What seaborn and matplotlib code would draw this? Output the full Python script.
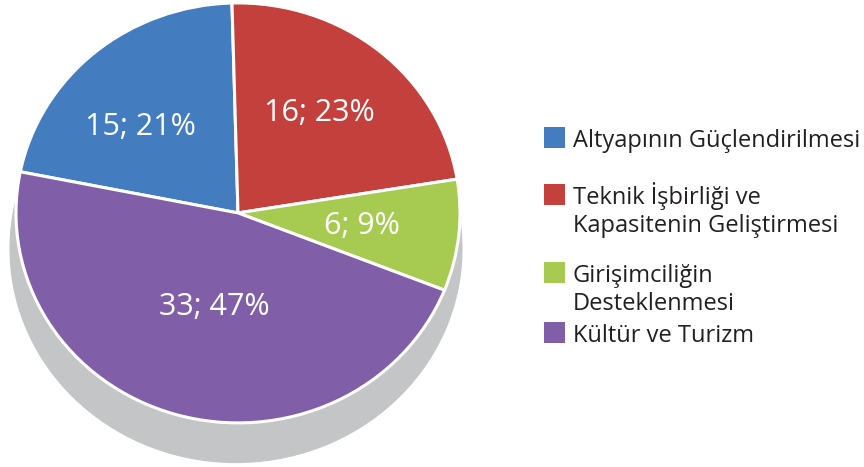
import matplotlib
matplotlib.use("Agg")
import matplotlib.pyplot as plt
import seaborn as sns
import numpy as np
from matplotlib.patches import Rectangle

sns.set_theme(style="white")
plt.rcParams['font.family'] = ['Open Sans', 'DejaVu Sans']

# ---- data ----
categories = ["Altyapının Güçlendirilmesi",
              "Teknik İşbirliği ve\nKapasitenin Geliştirmesi",
              "Girişimciliğin\nDesteklenmesi",
              "Kültür ve Turizm"]
values = [15, 16, 6, 33]
colors = ["#437dbf", "#c4403c", "#a6cb50", "#805ea8"]
shadow_color = "#c4c5c7"
text_color = "#231f20"
# label placement tweaks (style): radius and angular shift in degrees
label_dist = [0.6, 0.6, 0.56, 0.46]
label_shift = [7, 2, 0, 3]

W, H = 864, 467
fig = plt.figure(figsize=(W / 100, H / 100), dpi=100)
fig.patch.set_facecolor("white")

ax = fig.add_axes([0, 0, 480 / W, 1])
total = sum(values)

def fmt(pct):
    v = int(round(pct * total / 100.0))
    return f"{v}; {pct:.0f}%"

# 3D-like side (shadow) drawn as a grey pie of the same data
ax.pie(values, colors=[shadow_color] * len(values), radius=1.018,
       center=(-0.009, -0.171), startangle=168.7, counterclock=False,
       wedgeprops=dict(edgecolor=shadow_color, linewidth=0.8))

wedges, texts, autotexts = ax.pie(
    values, colors=colors, startangle=168.7, counterclock=False,
    autopct=fmt, pctdistance=0.6,
    wedgeprops=dict(edgecolor="white", linewidth=2.2),
    textprops=dict(color="white", fontsize=22))

for t, d, s in zip(autotexts, label_dist, label_shift):
    x, y = t.get_position()
    ang = np.arctan2(y, x) + np.deg2rad(s)
    t.set_position((d * np.cos(ang), d * np.sin(ang)))

ax.set_aspect("auto")
ax.set_xlim(-1.072, 1.090)
ax.set_ylim(-1.210, 1.014)
ax.axis("off")

# ---- legend (manual) ----
baselines = [147, 204, 282, 342]
line_gap = 28
sq = 21
for lab, col, b in zip(categories, colors, baselines):
    fig.patches.append(Rectangle((544 / W, 1 - (b + 1) / H), sq / W, sq / H,
                                 transform=fig.transFigure, facecolor=col,
                                 edgecolor="none"))
    for i, line in enumerate(lab.split("\n")):
        fig.text(573 / W, 1 - (b + i * line_gap) / H, line, fontsize=17,
                 color=text_color, va="baseline", ha="left")

fig.savefig("out.png", dpi=100, facecolor="white")
